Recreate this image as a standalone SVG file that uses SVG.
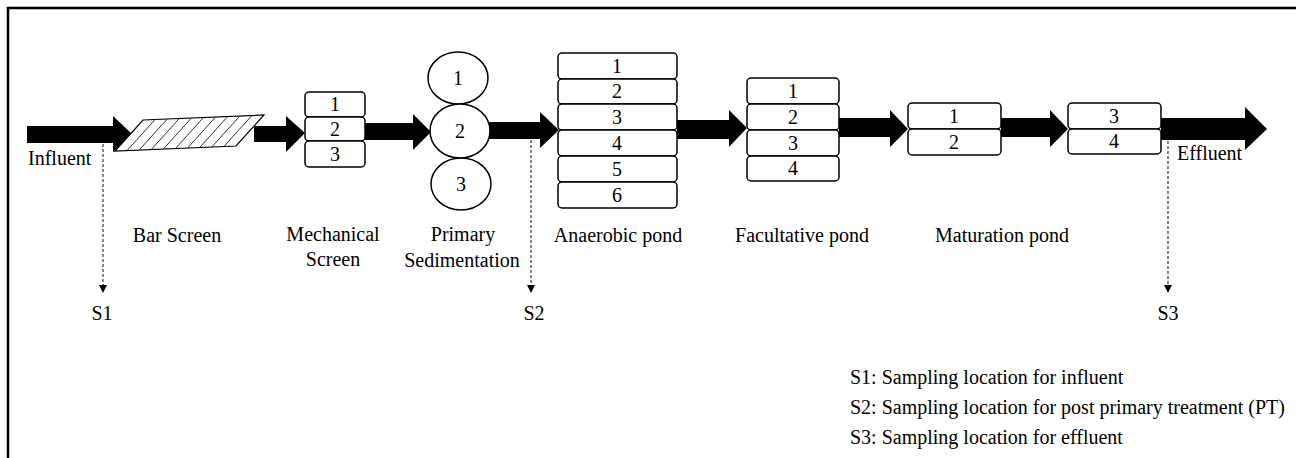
<svg xmlns="http://www.w3.org/2000/svg" width="1296" height="458" viewBox="0 0 1296 458">
<style>
text{font-size:20px;fill:#000}
.c{text-anchor:middle}
.box{fill:#fff;stroke:#000;stroke-width:1.5}
.arr{fill:#000;stroke:none}
.dash{stroke:#333;stroke-width:1.2;stroke-dasharray:3 2;fill:none}
.hatch{stroke:#333;stroke-width:1}
</style>
<defs>
<marker id="tri" markerWidth="8" markerHeight="8" refX="1" refY="4" orient="auto" markerUnits="userSpaceOnUse" viewBox="0 0 8 8">
<path d="M0,0 L8,4 L0,8 Z" fill="#000"/>
</marker>
</defs>
<rect width="1296" height="458" fill="#fff"/>
<path d="M8,458 L8,8 L1296,8" fill="none" stroke="#000" stroke-width="2.5"/>

<g id="connectors">
<path class="arr" d="M27,126 L113,126 L113,116 L132,134 L113,152 L113,143 L27,143 Z"/>
<path class="arr" d="M254,126 L286,126 L286,116 L305,133 L286,152 L286,142 L254,142 Z"/>
<path class="arr" d="M365,123 L413,123 L413,114 L431,132 L413,150 L413,140 L365,140 Z"/>
<path class="arr" d="M489,122 L540,122 L540,112 L559,130 L540,148 L540,139 L489,139 Z"/>
<path class="arr" d="M677,120 L729,120 L729,110 L747,128 L729,147 L729,139 L677,139 Z"/>
<path class="arr" d="M839,118 L890,118 L890,110 L908,129 L890,147 L890,137 L839,137 Z"/>
<path class="arr" d="M1001,118 L1050,118 L1050,110 L1068,129 L1050,147 L1050,137 L1001,137 Z"/>
<path class="arr" d="M1161,118 L1245,118 L1245,107 L1267,129 L1245,150 L1245,140 L1161,140 Z"/>
<line class="dash" x1="103" y1="144" x2="103" y2="286" marker-end="url(#tri)"/>
<line class="dash" x1="531" y1="140" x2="531" y2="286" marker-end="url(#tri)"/>
<line class="dash" x1="1168" y1="141" x2="1168" y2="286" marker-end="url(#tri)"/>
</g>

<g font-family="'Liberation Serif', 'Times New Roman', 'DejaVu Serif', serif">
<g id="influent">
<text x="28" y="165">Influent</text>
</g>

<g id="bar-screen">
<path d="M115,151 L143,120 L264,115 L236,146 Z" fill="#fff" stroke="#000" stroke-width="1.2"/>
<line class="hatch" x1="127.1" y1="150.5" x2="155.1" y2="119.5"/>
<line class="hatch" x1="139.2" y1="150" x2="167.2" y2="119"/>
<line class="hatch" x1="151.3" y1="149.5" x2="179.3" y2="118.5"/>
<line class="hatch" x1="163.4" y1="149" x2="191.4" y2="118"/>
<line class="hatch" x1="175.5" y1="148.5" x2="203.5" y2="117.5"/>
<line class="hatch" x1="187.6" y1="148" x2="215.6" y2="117"/>
<line class="hatch" x1="199.7" y1="147.5" x2="227.7" y2="116.5"/>
<line class="hatch" x1="211.8" y1="147" x2="239.8" y2="116"/>
<line class="hatch" x1="223.9" y1="146.5" x2="251.9" y2="115.5"/>
<text class="c" x="177" y="242">Bar Screen</text>
</g>

<g id="mechanical-screen">
<rect class="box" x="305" y="92" width="60" height="25" rx="4"/>
<rect class="box" x="305" y="117" width="60" height="24" rx="4"/>
<rect class="box" x="305" y="141" width="60" height="26" rx="4"/>
<text class="c" x="335" y="111">1</text>
<text class="c" x="335" y="136">2</text>
<text class="c" x="335" y="161">3</text>
<text class="c" x="333" y="241">Mechanical</text>
<text class="c" x="333" y="266">Screen</text>
</g>

<g id="primary-sedimentation">
<ellipse class="box" cx="458" cy="78" rx="30" ry="26"/>
<ellipse class="box" cx="460" cy="131" rx="30" ry="27"/>
<ellipse class="box" cx="461" cy="184" rx="30" ry="26"/>
<text class="c" x="458" y="85">1</text>
<text class="c" x="460" y="138">2</text>
<text class="c" x="461" y="191">3</text>
<text class="c" x="463" y="241">Primary</text>
<text class="c" x="462" y="267">Sedimentation</text>
</g>

<g id="anaerobic-pond">
<rect class="box" x="558" y="53" width="119" height="26" rx="4"/>
<rect class="box" x="558" y="79" width="119" height="25" rx="4"/>
<rect class="box" x="558" y="104" width="119" height="26" rx="4"/>
<rect class="box" x="558" y="130" width="119" height="26" rx="4"/>
<rect class="box" x="558" y="156" width="119" height="26" rx="4"/>
<rect class="box" x="558" y="182" width="119" height="26" rx="4"/>
<text class="c" x="617" y="73">1</text>
<text class="c" x="617" y="98">2</text>
<text class="c" x="617" y="124">3</text>
<text class="c" x="617" y="150">4</text>
<text class="c" x="617" y="176">5</text>
<text class="c" x="617" y="202">6</text>
<text class="c" x="618" y="242">Anaerobic pond</text>
</g>

<g id="facultative-pond">
<rect class="box" x="747" y="78" width="92" height="26" rx="4"/>
<rect class="box" x="747" y="104" width="92" height="26" rx="4"/>
<rect class="box" x="747" y="130" width="92" height="26" rx="4"/>
<rect class="box" x="747" y="156" width="92" height="25" rx="4"/>
<text class="c" x="793" y="98">1</text>
<text class="c" x="793" y="124">2</text>
<text class="c" x="793" y="150">3</text>
<text class="c" x="793" y="175">4</text>
<text class="c" x="802" y="242">Facultative pond</text>
</g>

<g id="maturation-pond">
<rect class="box" x="908" y="103" width="93" height="26" rx="4"/>
<rect class="box" x="908" y="129" width="93" height="26" rx="4"/>
<rect class="box" x="1068" y="103" width="93" height="26" rx="4"/>
<rect class="box" x="1068" y="129" width="93" height="25" rx="4"/>
<text class="c" x="954" y="123">1</text>
<text class="c" x="954" y="149">2</text>
<text class="c" x="1114" y="123">3</text>
<text class="c" x="1114" y="148">4</text>
<text class="c" x="1002" y="242">Maturation pond</text>
</g>

<g id="effluent">
<text x="1177" y="160">Effluent</text>
</g>

<g id="sampling-labels">
<text class="c" x="102" y="320">S1</text>
<text class="c" x="534" y="320">S2</text>
<text class="c" x="1168" y="320">S3</text>
</g>

<g id="legend">
<text x="850" y="384">S1: Sampling location for influent</text>
<text x="850" y="414">S2: Sampling location for post primary treatment (PT)</text>
<text x="850" y="444">S3: Sampling location for effluent</text>
</g>
</g>
</svg>
